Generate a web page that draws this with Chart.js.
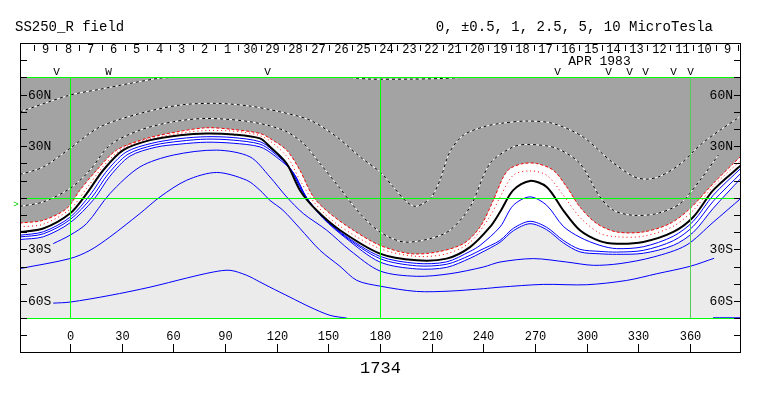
<!DOCTYPE html>
<html>
<head>
<meta charset="utf-8">
<script src="https://cdn.jsdelivr.net/npm/chart.js"></script>
<style>
  html, body { margin:0; padding:0; background:#fff; }
  canvas { display:block; }
</style>
</head>
<body>
<canvas id="ssMap" width="763" height="396"></canvas>
<script>
// traces: [Carrington longitude, latitude]
const neutralLine = [[-29,-19.9],[-15.5,-17.9],[0,-9.2],[9.7,2.4],[19.3,16.0],[30.9,27.7],[46.5,33.5],[63.9,36.4],[79.4,37.4],[94.8,36.8],[110.3,34.5],[116.1,29.6],[125.8,19.9],[133.5,4.4],[143.2,-7.3],[156.8,-18.9],[180,-32.5],[201.3,-36.4],[218.7,-35.4],[232.3,-28.7],[243.9,-17.0],[249.7,-8.3],[257.4,4.4],[267.1,9.8],[276.8,6.3],[286.4,-7.3],[296.1,-18.9],[307.7,-25.2],[317.4,-26.7],[332.9,-25.7],[350.3,-19.9],[361.9,-11.2],[373.5,4.4],[389.6,18.9]];

const redOuter = [[-29,-14.7],[-15.5,-13.1],[-1.9,-6.3],[5.8,4.4],[15.5,16.0],[27.1,27.7],[44.5,34.5],[62.0,38.3],[79.4,40.7],[94.8,39.7],[110.3,37.4],[116.1,34.5],[125.8,27.7],[133.5,16.0],[141.3,0.5],[151.0,-9.2],[164.5,-18.9],[180,-27.7],[197.4,-32.5],[212.9,-31.6],[228.4,-26.7],[238.1,-17.0],[245.8,-1.5],[251.6,12.1],[255.5,17.0],[263.2,19.9],[271.0,19.9],[280.6,16.0],[288.4,6.3],[296.1,-5.4],[305.8,-15.0],[317.4,-19.9],[332.9,-19.9],[348.4,-15.0],[360,-6.3],[373.5,8.3],[385.1,19.9],[389.6,24.2]];

const redInner = [[-29,-16.9],[-15.5,-15.4],[0,-6.7],[9.7,5.5],[19.3,18.3],[30.9,28.8],[46.5,34.3],[79.4,39.1],[110.3,36.1],[125.8,24.2],[133.5,10.2],[143.2,-4.4],[156.8,-16.6],[180,-29.6],[201.3,-34.1],[218.7,-32.6],[232.3,-25.9],[243.9,-10.8],[249.7,0.3],[257.4,13.1],[267.1,15.6],[276.8,13.1],[286.4,1.5],[296.1,-11.4],[307.7,-20.7],[317.4,-22.7],[332.9,-22.4],[350.3,-16.6],[361.9,-7.3],[373.5,6.7],[389.6,21.8]];

const negTop = [[-29,50.0],[0,59.7],[17,63.0],[34.8,66.5],[52,69.5],[60,70]];
const negTopB = [[162.6,69.9],[174.2,69.0],[197.4,69.0],[214.8,69.3],[226.4,69.9]];
const negMid = [[-29,13.5],[-15.5,17.9],[0,28.7],[17.4,41.2],[40.6,49.0],[63.9,53.9],[85.2,54.9],[104.5,53.3],[121.9,50.0],[139.4,45.1],[154.9,35.4],[168.4,23.8],[180,15.0],[187.7,6.3],[195.5,-2.4],[200.3,-5.0],[205.1,-3.4],[210.0,0.5],[214.8,10.2],[220.6,26.7],[228.4,36.4],[240.0,41.2],[249.7,43.2],[265.2,44.6],[280.5,43.2],[297.9,35.4],[313.5,21.8],[326.9,12.5],[334.5,10.8],[342.6,12.5],[354.2,19.5],[365.8,30.6],[377.4,39.3],[389.6,47.5]];
const negLow = [[-29,-5.0],[-15.5,-2.4],[0,5.4],[11.6,16.0],[23.2,30.6],[40.6,39.3],[60.0,44.2],[79.4,46.1],[104.5,44.2],[123.9,39.3],[135.5,31.6],[145.2,19.9],[156.8,5.4],[168.4,-9.2],[180,-19.9],[193.5,-25.7],[209.0,-23.8],[220.6,-18.9],[232.3,-5.4],[243.9,19.9],[257.4,29.6],[267.1,31.0],[282.6,28.7],[296.1,19.9],[307.7,0.5],[315.5,-7.3],[327.1,-10.2],[340.7,-9.2],[354.2,-3.4],[365.8,10.2],[376.4,24.8]];

const pos1 = [[-29,-21.8],[-15.5,-19.8],[0,-11.4],[11.6,1.5],[20.9,14.9],[32.5,26.5],[47.6,31.7],[63.9,34.4],[79.4,35.5],[94.8,35.0],[110.3,32.6],[117.3,28.0],[127.2,18.1],[135.3,2.9],[144.6,-8.7],[157.9,-20.7],[180,-34.1],[201.3,-38.2],[218.7,-37.3],[232.3,-31.2],[238.1,-27.7],[249.7,-17.0],[257.4,-4.4],[267.1,0.5],[276.8,-4.4],[286.4,-16.6],[296.1,-23.0],[307.7,-27.7],[317.4,-29.6],[332.9,-28.5],[350.3,-22.4],[361.9,-13.7],[373.5,1.5],[389.6,17.2]];
const pos2 = [[-29,-22.8],[-15.5,-21.0],[0,-12.8],[12.8,0.3],[22.1,13.7],[33.7,25.3],[48.8,30.6],[63.9,32.9],[79.4,34.1],[94.8,33.5],[110.3,31.2],[117.9,26.5],[128.3,16.6],[136.5,1.5],[145.7,-10.2],[159.1,-22.1],[180,-35.4],[201.3,-39.6],[218.7,-38.7],[232.3,-33.5],[238.1,-30.6],[249.7,-24.8],[257.4,-17.8],[267.1,-13.7],[276.8,-17.2],[286.4,-24.8],[296.1,-30.0],[307.7,-31.2],[317.4,-31.6],[332.9,-30.6],[350.3,-25.0],[361.9,-16.6],[373.5,-2.0],[389.6,14.3]];
const pos3 = [[-29,-24.3],[-15.5,-22.7],[0,-14.6],[13.9,-0.9],[23.2,12.5],[34.8,24.2],[49.9,29.4],[63.9,31.2],[79.4,32.3],[94.8,31.7],[110.3,29.6],[118.4,24.8],[129.5,14.9],[137.6,-0.3],[146.9,-11.9],[160.3,-23.6],[180,-37.4],[201.3,-41.4],[218.7,-40.5],[232.3,-35.2],[238.1,-32.3],[249.7,-25.9],[257.4,-19.2],[267.1,-15.1],[276.8,-18.6],[286.4,-26.2],[296.1,-31.5],[307.7,-32.6],[317.4,-32.9],[332.9,-32.3],[350.3,-27.7],[361.9,-20.1],[373.5,-6.1],[389.6,11.4]];
const pos4 = [[-9.7,-26.7],[0,-21.8],[9.7,-15.0],[23.2,2.4],[40.6,17.9],[60.0,24.8],[85.2,27.7],[104.5,23.8],[116.1,12.1],[125.8,0.5],[135.5,-9.2],[149.1,-18.9],[162.6,-30.6],[180,-42.6],[201.3,-45.7],[220.6,-44.2],[240,-40.3],[249.7,-37.4],[269,-35.4],[288.4,-37.4],[303.9,-39.3],[319.4,-38.3],[338.7,-34.5],[357.7,-27.7],[373.4,-14.3],[389.6,-0.3]];
const pos5 = [[-29,-41.2],[0,-35.4],[11.6,-30.6],[23.2,-22.8],[40.6,-9.2],[52.3,0.5],[67.8,10.2],[85.2,14.7],[102.6,10.2],[110.3,4.4],[116.1,-1.5],[123.7,-7.3],[133.5,-17.8],[145.2,-30.6],[156.8,-39.9],[166.6,-48.1],[180,-51.4],[201.3,-54.5],[220.6,-54.3],[240,-52.9],[249.7,-52.0],[274.8,-50.4],[300,-50.6],[323.2,-48.1],[340.7,-44.2],[360,-39.9],[374,-35.2]];
const pos6 = [[-9.7,-61.3],[0,-60.7],[23.2,-56.8],[46.5,-52.0],[67.8,-46.7],[83.2,-43.2],[92.9,-42.2],[102.6,-45.1],[110.3,-49.0],[116.1,-52.0],[127.7,-57.8],[139.4,-63.6],[151.0,-68.4],[160.7,-70]];
const pos7 = [[373.4,-69.8],[389.6,-69.8]];

// axes and annotations
const lonTicks = [0,30,60,90,120,150,180,210,240,270,300,330,360];
const latTicks = [-80,-70,-60,-50,-40,-30,-20,-10,0,10,20,30,40,50,60,70,80];
const latNames = {60:'60N', 30:'30N', '-30':'30S', '-60':'60S'};
const dayLabels = ['9','8','7','6','5','4','3','2','1','30','29','28','27','26','25','24','23','22','21','20','19','18','17','16','15','14','13','12','11','10','9'];
const firstDayLon = -14.5, dayStep = 13.2;
const markLons = [-8.1, 22.1, 114.4, 282.8, 312.4, 324.6, 333.9, 350.1, 360];
const markChars = ['V','W','V','V','V','V','V','V','V'];
const guideLats = [70, 0, -70];
const guideLons = [0, 180];
const rotationLon = 360;

const pts = a => a.map(p => ({x: p[0], y: p[1]}));
const FONT = '"Liberation Mono", "DejaVu Sans Mono", monospace';

function line(data, color, extra) {
  return Object.assign({data: pts(data), borderColor: color, borderWidth: 1, pointRadius: 0, fill: false}, extra || {});
}

const datasets = [
  line(neutralLine, '#000000', {borderWidth: 2}),                                     // 0
  line(redOuter, '#ff0000', {borderDash: [3, 2], fill: {value: 70}, backgroundColor: '#a3a3a3'}), // 1
  line(redInner, '#ff0000', {borderDash: [1, 3]}),
  line(pos1, '#0000ff'),
  line(pos2, '#0000ff'),
  line(pos3, '#0000ff', {fill: 1, backgroundColor: '#ffffff'}),
  line(pos4, '#0000ff'),
  line(pos5, '#0000ff'),
  line(pos6, '#0000ff'),
  line(pos7, '#0000ff'),
];
for (const c of [negTop, negTopB, negMid, negLow]) {
  datasets.push(line(c, '#000000', {borderDash: [3, 3]}));
}
for (const c of [negTop, negTopB, negMid, negLow]) {
  datasets.push(line(c, '#ffffff'));
}

const mapDecor = {
  id: 'mapDecor',
  beforeDraw(chart) {
    const {ctx, chartArea: a, scales: {y}} = chart;
    const t = y.getPixelForValue(70), b = y.getPixelForValue(-70);
    ctx.save();
    ctx.fillStyle = '#ebebeb';
    ctx.fillRect(a.left, t, a.right - a.left, b - t);
    ctx.restore();
  },
  afterDatasetsDraw(chart) {
    const {ctx, chartArea: a, scales: {x, y}} = chart;
    const px = v => Math.round(x.getPixelForValue(v)) + 0.5;
    const py = v => Math.round(y.getPixelForValue(v)) + 0.5;
    ctx.save();
    ctx.lineWidth = 1;

    // green guide lines
    ctx.strokeStyle = '#00ff00';
    ctx.beginPath();
    guideLats.forEach(l => { ctx.moveTo(a.left, py(l)); ctx.lineTo(a.right, py(l)); });
    guideLons.forEach(l => { ctx.moveTo(px(l), py(70)); ctx.lineTo(px(l), py(-70)); });
    ctx.stroke();
    ctx.strokeStyle = '#55cc55';
    ctx.beginPath();
    ctx.moveTo(px(rotationLon), py(70)); ctx.lineTo(px(rotationLon), py(-70));
    ctx.stroke();

    // frame
    ctx.strokeStyle = '#000';
    ctx.strokeRect(Math.round(a.left) + 0.5, Math.round(a.top) + 0.5, Math.round(a.right - a.left) - 1, Math.round(a.bottom - a.top) - 1);

    // bottom longitude ticks
    ctx.fillStyle = '#000';
    ctx.font = '12px ' + FONT;
    ctx.textAlign = 'center';
    ctx.textBaseline = 'middle';
    ctx.beginPath();
    lonTicks.forEach(l => {
      ctx.moveTo(px(l), a.bottom); ctx.lineTo(px(l), a.bottom - 9);
      ctx.fillText(String(l), px(l), a.bottom - 16);
    });
    // latitude ticks, both sides
    latTicks.forEach(l => {
      ctx.moveTo(a.left, py(l)); ctx.lineTo(a.left + 7, py(l));
      ctx.moveTo(a.right, py(l)); ctx.lineTo(a.right - 7, py(l));
    });
    // day ticks along the top
    for (let i = 0; i <= dayLabels.length; i++) {
      const tl = firstDayLon + (i - 0.5) * dayStep;
      ctx.moveTo(px(tl), a.top + 2); ctx.lineTo(px(tl), a.top + 8);
    }
    ctx.stroke();

    ctx.font = '13px ' + FONT;
    for (const k in latNames) {
      ctx.textAlign = 'left';
      ctx.fillText(latNames[k], a.left + 8, py(+k));
      ctx.textAlign = 'right';
      ctx.fillText(latNames[k], a.right - 8, py(+k));
    }

    ctx.font = '12px ' + FONT;
    ctx.textAlign = 'center';
    dayLabels.forEach((d, i) => ctx.fillText(d, px(firstDayLon + i * dayStep), a.top + 7));
    ctx.font = '13px ' + FONT;
    ctx.fillText('APR 1983', px(307), a.top + 19);

    ctx.font = '11px ' + FONT;
    markLons.forEach((l, i) => ctx.fillText(markChars[i], px(l), py(70) - 5));

    ctx.fillStyle = '#00cc00';
    ctx.font = '9px ' + FONT;
    ctx.fillText('>', a.left - 4, py(-3.7));

    ctx.fillStyle = '#000';
    ctx.font = '14px ' + FONT;
    ctx.textAlign = 'left';
    ctx.fillText('SS250_R field', 15, 27);
    ctx.textAlign = 'right';
    ctx.fillText('0, \u00b10.5, 1, 2.5, 5, 10 MicroTesla', 713, 27);
    ctx.textAlign = 'center';
    ctx.font = '17px ' + FONT;
    ctx.fillText('1734', px(180), a.bottom + 15);
    ctx.restore();
  }
};

new Chart(document.getElementById('ssMap'), {
  type: 'line',
  data: {datasets},
  options: {
    responsive: false,
    animation: false,
    events: [],
    layout: {padding: {left: 20, top: 43, right: 22, bottom: 43}},
    scales: {
      x: {type: 'linear', min: -29, max: 389.6, display: false},
      y: {type: 'linear', min: -90.3, max: 90, display: false}
    },
    elements: {line: {tension: 0.3}},
    plugins: {
      legend: {display: false},
      tooltip: {enabled: false},
      filler: {drawTime: 'beforeDatasetsDraw'}
    }
  },
  plugins: [mapDecor]
});
</script>
</body>
</html>
